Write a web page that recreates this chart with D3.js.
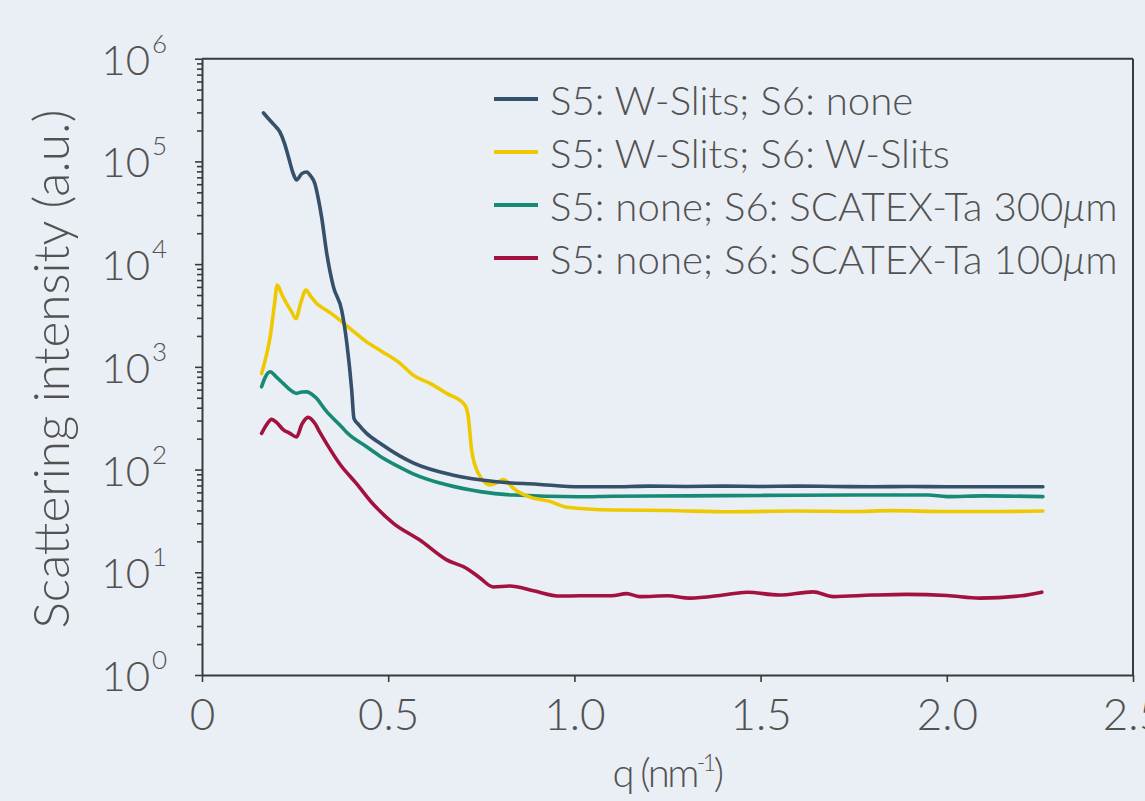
<!DOCTYPE html>
<html>
<head>
<meta charset="utf-8">
<script src="https://cdn.jsdelivr.net/npm/d3@7"></script>
<style>
  html, body { margin: 0; padding: 0; background: #eaeef5; }
  svg { display: block; }
  text { font-family: "Lato", "DejaVu Sans", sans-serif; font-weight: 300; fill: #525252; }
</style>
</head>
<body>
<svg id="chart" width="1145" height="801"></svg>
<script>
// ---------- data ----------
const seriesNames = [
  ["S5: W-Slits; S6: none", ""],
  ["S5: W-Slits; S6: W-Slits", ""],
  ["S5: none; S6: SCATEX-Ta 300", "m"],
  ["S5: none; S6: SCATEX-Ta 100", "m"]
];
const seriesColors = ["#35506a", "#efc900", "#168a74", "#a3123f"];

const qBlue = [0.165,0.178,0.195,0.209,0.222,0.232,0.245,0.254,0.268,0.281,0.292,0.303,0.312,0.321,0.335,0.353,0.375,0.389,0.402,0.408,0.42,0.442,0.478,0.532,0.567,0.675,0.791,0.9,1.015,1.1,1.2,1.3,1.4,1.5,1.6,1.7,1.8,1.9,2.0,2.1,2.258];
const vBlue = [297000,262000,224000,194000,148000,111000,76000,66000,76000,79000,72000,61000,44000,29000,12700,6000,3560,1690,594,315,275,225,180,135,116,88,76,72,68,68,69,68.5,69,68.5,69,68.5,68,68.5,68,68,68];

const qYellow = [0.160,0.172,0.183,0.195,0.202,0.215,0.227,0.240,0.252,0.265,0.279,0.293,0.308,0.330,0.353,0.397,0.442,0.482,0.532,0.567,0.612,0.657,0.706,0.715,0.724,0.742,0.773,0.790,0.809,0.823,0.836,0.881,0.934,0.979,1.105,1.25,1.418,1.6,1.75,1.85,2.0,2.1,2.258];
const vYellow = [860,1260,1950,4170,6250,5000,4140,3470,2950,4170,5580,4790,4140,3630,3190,2370,1750,1420,1080,830,690,552,425,327,155,92,71,74,80,74,66,54,49,43,40.4,40,38.8,39.5,39,39.8,39,39,39.5];

const qTeal = [0.160,0.170,0.183,0.200,0.218,0.235,0.254,0.268,0.281,0.303,0.335,0.379,0.389,0.442,0.478,0.532,0.567,0.657,0.747,0.836,1.015,1.1,1.3,1.5,1.75,1.95,2.0,2.1,2.258];
const vTeal = [640,794,895,794,690,603,552,569,571,512,366,251,229,167,135,105,91,71,61,56.5,54.3,55,55.5,56,56.5,56.5,54.5,55.5,54.5];

const qRed = [0.160,0.172,0.187,0.200,0.218,0.235,0.254,0.268,0.285,0.303,0.317,0.335,0.371,0.415,0.451,0.514,0.585,0.657,0.711,0.745,0.782,0.827,0.890,0.961,1.015,1.10,1.14,1.176,1.25,1.31,1.40,1.463,1.55,1.641,1.695,1.80,1.892,2.0,2.089,2.2,2.255];
const vRed = [225,269,308,288,245,226,208,275,322,282,229,178,112,73,50,30,20.6,13.2,10.9,8.9,7.2,7.35,6.6,5.87,5.9,5.9,6.2,5.8,5.9,5.6,6.0,6.4,6.0,6.45,5.8,6.0,6.1,5.95,5.6,5.9,6.4];

const xTicks = [0, 0.5, 1.0, 1.5, 2.0, 2.5];
const xTickLabels = ["0", "0.5", "1.0", "1.5", "2.0", "2.5"];
const yDecades = [0, 1, 2, 3, 4, 5, 6];

// ---------- layout ----------
const svg = d3.select("#chart");
const pL = 202, pR = 1133, pT = 58.7, pB = 675;
const x = d3.scaleLinear().domain([0, 2.5]).range([pL, pR]);
const y = d3.scaleLog().domain([1, 1e6]).range([pB, pT]);
const axisColor = "#3a3a3a";

// minor ticks
const minorVals = [];
yDecades.slice(0, -1).forEach(d => { for (let k = 2; k <= 9; k++) minorVals.push(k * Math.pow(10, d)); });
const majorVals = yDecades.map(d => Math.pow(10, d));

const gy = svg.append("g").attr("transform", `translate(${pL},0)`);
gy.call(d3.axisLeft(y).tickValues(majorVals).tickSize(7).tickSizeOuter(0).tickFormat(""));
const gyMinor = svg.append("g").attr("transform", `translate(${pL},0)`);
gyMinor.call(d3.axisLeft(y).tickValues(minorVals).tickSize(5).tickSizeOuter(0).tickFormat(""));
gyMinor.select(".domain").remove();
[gy, gyMinor].forEach(g => {
  g.selectAll("line").attr("stroke", axisColor).attr("stroke-width", 1.6);
  g.selectAll(".domain").attr("stroke", axisColor).attr("stroke-width", 2);
});

// y labels 10^n
yDecades.forEach(d => {
  svg.append("text")
    .attr("x", 150).attr("y", y(Math.pow(10, d)))
    .attr("text-anchor", "end").attr("dominant-baseline", "central")
    .style("font-size", "42px")
    .text("10");
  svg.append("text")
    .attr("x", 152).attr("y", y(Math.pow(10, d)) - 6)
    .style("font-size", "26px")
    .text(String(d));
});

// x axis
const gx = svg.append("g").attr("transform", `translate(0,${pB})`);
gx.call(d3.axisBottom(x).tickValues(xTicks).tickSize(7).tickSizeOuter(0).tickFormat((d, i) => xTickLabels[i]));
gx.selectAll("line").attr("stroke", axisColor).attr("stroke-width", 1.6);
gx.select(".domain").attr("stroke", axisColor).attr("stroke-width", 2);
gx.selectAll("text").attr("dy", null).attr("y", 55).style("font-size", "44px").attr("fill", "#525252")
  .style("font-family", "Lato, 'DejaVu Sans', sans-serif").style("font-weight", 300);

// box top & right
svg.append("line").attr("x1", pL).attr("x2", pR).attr("y1", pT).attr("y2", pT)
  .attr("stroke", axisColor).attr("stroke-width", 2);
svg.append("line").attr("x1", pR).attr("x2", pR).attr("y1", pT).attr("y2", pB)
  .attr("stroke", axisColor).attr("stroke-width", 2);

// lines
const series = [
  { q: qBlue, v: vBlue },
  { q: qYellow, v: vYellow },
  { q: qTeal, v: vTeal },
  { q: qRed, v: vRed }
];
const line = d3.line().x(d => x(d[0])).y(d => y(d[1])).curve(d3.curveMonotoneX);
[3, 2, 1, 0].forEach(i => {
  const s = series[i];
  const pts = s.q.map((q, j) => [q, s.v[j]]);
  svg.append("path").datum(pts)
    .attr("d", line)
    .attr("fill", "none")
    .attr("stroke", seriesColors[i])
    .attr("stroke-width", 3.6)
    .attr("stroke-linejoin", "round")
    .attr("stroke-linecap", "round");
});

// legend
const legY0 = 99, legDy = 53;
seriesNames.forEach((name, i) => {
  const yy = legY0 + i * legDy;
  svg.append("line").attr("x1", 494).attr("x2", 538).attr("y1", yy).attr("y2", yy)
    .attr("stroke", seriesColors[i]).attr("stroke-width", 4);
  const t = svg.append("text").attr("x", 550).attr("y", yy)
    .attr("dominant-baseline", "central")
    .style("font-size", "40.2px");
  t.append("tspan").text(name[0]);
  if (name[1]) {
    t.append("tspan").style("font-style", "italic").text("\u03bc");
    t.append("tspan").text(name[1]);
  }
});

// axis titles
svg.append("text")
  .attr("transform", `translate(69,369) rotate(-90)`)
  .attr("text-anchor", "middle")
  .style("font-size", "49.5px")
  .text("Scattering intensity (a.u.)");

const xt = svg.append("text")
  .attr("x", 667).attr("y", 787)
  .attr("text-anchor", "middle")
  .style("font-size", "40px")
  .style("letter-spacing", "-2.5px");
xt.append("tspan").text("q (nm");
xt.append("tspan").attr("dy", -16).style("font-size", "23px").text("-1");
xt.append("tspan").attr("dy", 16).text(")");
</script>
</body>
</html>
